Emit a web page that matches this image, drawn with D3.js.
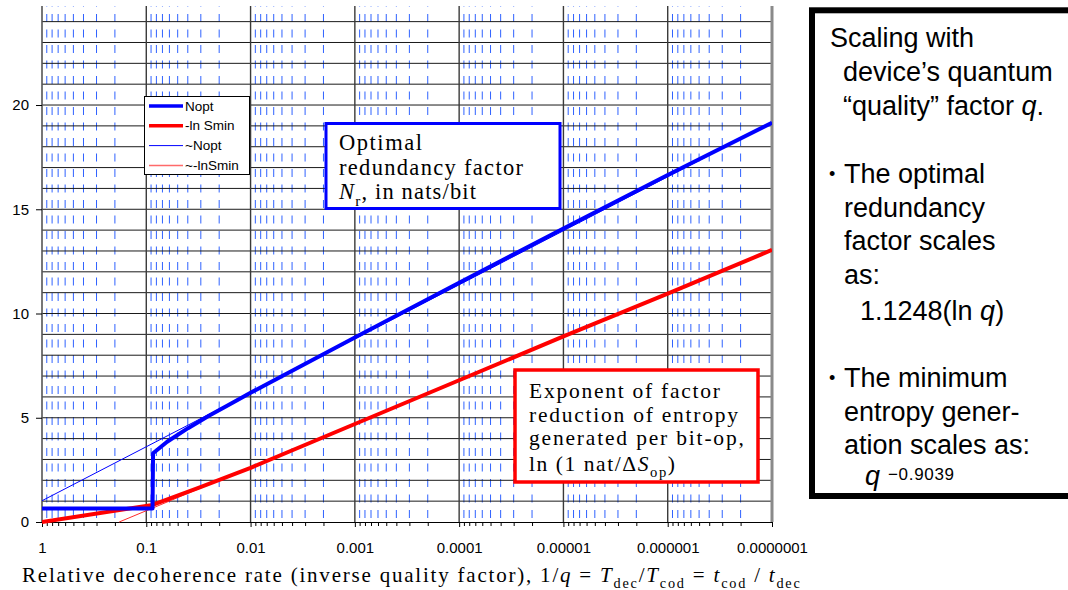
<!DOCTYPE html>
<html lang="en">
<head>
<meta charset="UTF-8">
<title>Redundancy vs decoherence rate</title>
<style>
    body { margin: 0; background: #fff; }
    svg { display: block; }
</style>
</head>
<body>
<script src="https://d3js.org/d3.v7.min.js"></script>
<script>

    let w = 1068, h = 590;

    // x axis: relative decoherence rate 1/q (log, decreasing to the right)
    let decadeTicks = [1, 0.1, 0.01, 0.001, 0.0001, 0.00001, 0.000001, 0.0000001];
    let decadeLabels = ["1", "0.1", "0.01", "0.001", "0.0001", "0.00001", "0.000001", "0.0000001"];
    let yTicks = [0, 5, 10, 15, 20];

    // Nopt (thick blue)
    let noptRate = [1, 0.0871, 0.0861, 0.0631, 0.0398, 0.0251, 0.0158, 0.01, 0.001, 0.0001, 0.00001, 0.000001, 0.0000001];
    let noptVal  = [0.65, 0.65, 3.3, 3.85, 4.5, 5.1, 5.65, 6.2, 8.85, 11.48, 14.08, 16.64, 19.15];
    // -ln Smin (thick red)
    let smRate = [1, 0.0871, 0.0316, 0.01, 0.001, 0.0001, 0.00001, 0.000001, 0.0000001];
    let smVal  = [0, 0.82, 1.64, 2.6, 4.7, 6.8, 8.9, 10.95, 13.05];
    // ~Nopt (thin blue)
    let apNoptRate = [1, 0.0000001];
    let apNoptVal  = [1.02, 19.15];
    // ~-lnSmin (thin red)
    let apSmRate = [0.182, 0.0000001];
    let apSmVal  = [0, 13.05];

    let legendNames = ["Nopt", "-ln Smin", "~Nopt", "~-lnSmin"];

    let plot = {left: 42, right: 772, top: 6, bottom: 522};

    let svg = d3.select("body").append("svg")
        .attr("width", w)
        .attr("height", h);

    let xScale = d3.scaleLog().domain([1, 1e-7]).range([plot.left, plot.right]);
    let yScale = d3.scaleLinear().domain([0, 24.75]).range([plot.bottom, plot.top]);

    // minor positions 2..9 inside each decade
    let minorTicks = [];
    for (let k = 1; k <= 7; ++k) {
        for (let m = 2; m <= 9; ++m) {
            minorTicks.push(m * Math.pow(10, -k));
        }
    }

    // blue dashed minor gridlines
    svg.append("g")
        .selectAll("line")
        .data(minorTicks)
        .enter()
        .append("line")
        .attr("x1", d => xScale(d))
        .attr("x2", d => xScale(d))
        .attr("y1", plot.top)
        .attr("y2", plot.bottom)
        .attr("stroke", "#2f62ff")
        .attr("stroke-width", 1)
        .attr("stroke-dasharray", "8,7.5")
        .attr("stroke-dashoffset", 7.5);

    // horizontal gridlines each unit
    svg.append("g")
        .selectAll("line")
        .data(d3.range(1, 25))
        .enter()
        .append("line")
        .attr("x1", plot.left)
        .attr("x2", plot.right)
        .attr("y1", d => yScale(d))
        .attr("y2", d => yScale(d))
        .attr("stroke", "#1a1a1a")
        .attr("stroke-width", 1);

    // decade lines
    svg.append("g")
        .selectAll("line")
        .data(decadeTicks.slice(1, 7))
        .enter()
        .append("line")
        .attr("x1", d => xScale(d))
        .attr("x2", d => xScale(d))
        .attr("y1", plot.top)
        .attr("y2", plot.bottom)
        .attr("stroke", "#3a3a3a")
        .attr("stroke-width", 1.4);

    // right border
    svg.append("line")
        .attr("x1", plot.right).attr("x2", plot.right)
        .attr("y1", plot.top).attr("y2", plot.bottom)
        .attr("stroke", "#8a8a8a").attr("stroke-width", 3);

    // axes
    let xAxis = d3.axisBottom(xScale)
        .tickValues(decadeTicks)
        .tickFormat((d, i) => decadeLabels[i])
        .tickSize(5).tickSizeOuter(0).tickPadding(15);
    let xMinor = d3.axisBottom(xScale)
        .tickValues(minorTicks)
        .tickFormat("")
        .tickSize(4).tickSizeOuter(0);
    let yAxis = d3.axisLeft(yScale)
        .tickValues(yTicks)
        .tickSize(6).tickSizeOuter(0).tickPadding(7);

    svg.append("g")
        .attr("transform", "translate(0," + plot.bottom + ")")
        .call(xMinor)
        .call(g => g.select(".domain").remove());

    let gx = svg.append("g")
        .attr("transform", "translate(0," + plot.bottom + ")")
        .call(xAxis);
    gx.selectAll("text").style("font-family", "'Liberation Sans', Arial, sans-serif").style("font-size", "15px");

    let gy = svg.append("g")
        .attr("transform", "translate(" + plot.left + ",0)")
        .call(yAxis);
    gy.select(".domain").attr("stroke", "#555").attr("stroke-width", 1.6)
        .attr("d", "M0," + plot.top + "V" + plot.bottom);
    gy.selectAll("text").style("font-family", "'Liberation Sans', Arial, sans-serif").style("font-size", "15px");

    // curves
    svg.append("clipPath").attr("id", "clip")
        .append("rect")
        .attr("x", plot.left).attr("y", plot.top)
        .attr("width", plot.right - plot.left).attr("height", plot.bottom - plot.top + 2);

    let line = d3.line()
        .x(d => xScale(d[0]))
        .y(d => yScale(d[1]));

    function zip(a, b) { return a.map((v, i) => [v, b[i]]); }

    let series = [
        {data: zip(apSmRate, apSmVal), color: "#ff2a2a", width: 1},
        {data: zip(apNoptRate, apNoptVal), color: "#0000ff", width: 1},
        {data: zip(smRate, smVal), color: "#ff0000", width: 4},
        {data: zip(noptRate, noptVal), color: "#0000ff", width: 4}
    ];

    let cg = svg.append("g").attr("clip-path", "url(#clip)");
    series.forEach(s => {
        cg.append("path")
            .attr("d", line(s.data))
            .attr("fill", "none")
            .attr("stroke", s.color)
            .attr("stroke-width", s.width)
            .attr("stroke-linejoin", "round");
    });

    // legend
    let legendStyle = [
        {color: "#0000ff", width: 3.5},
        {color: "#ff0000", width: 3.5},
        {color: "#0000ff", width: 1},
        {color: "#ff6a6a", width: 1.5}
    ];
    let lg = svg.append("g");
    lg.append("rect")
        .attr("x", 144.5).attr("y", 96.5)
        .attr("width", 105).attr("height", 78)
        .attr("fill", "#fff").attr("stroke", "#000").attr("stroke-width", 1);
    legendNames.forEach((name, i) => {
        let yy = 106 + i * 19.8;
        lg.append("line")
            .attr("x1", 149).attr("x2", 183)
            .attr("y1", yy).attr("y2", yy)
            .attr("stroke", legendStyle[i].color)
            .attr("stroke-width", legendStyle[i].width);
        lg.append("text")
            .attr("x", 185).attr("y", yy + 4.5)
            .style("font-family", "'Liberation Sans', Arial, sans-serif")
            .style("font-size", "13.5px")
            .text(name);
    });

    // fit a text element to a target width using letter spacing
    function fit(t, width) {
        let node = t.node();
        let len = node.getComputedTextLength();
        let n = node.getNumberOfChars();
        if (n > 1) t.attr("letter-spacing", ((width - len) / (n - 1)).toFixed(2));
    }

    // add a line made of parts: [text, style] style: "i" italic, "sub" subscript, "sup" superscript
    function richText(g, x, y, parts, font, size) {
        let t = g.append("text")
            .attr("x", x).attr("y", y)
            .style("font-family", font)
            .style("font-size", size + "px");
        let shift = 0;
        parts.forEach(p => {
            let s = typeof p === "string" ? [p, ""] : p;
            let sp = t.append("tspan").text(s[0]);
            let target = 0;
            if (s[1].indexOf("sub") >= 0) { target = size * 0.3; sp.style("font-size", (size * 0.68) + "px"); }
            if (s[1].indexOf("sup") >= 0) { target = -size * 0.3; sp.style("font-size", (size * 0.58) + "px"); }
            if (s[1].indexOf("i") === 0) sp.style("font-style", "italic");
            if (target !== shift) { sp.attr("dy", target - shift); shift = target; }
        });
        return t;
    }

    let serif = "'Liberation Serif', 'Times New Roman', serif";
    let sans = "'Liberation Sans', Arial, sans-serif";

    // blue annotation box
    svg.append("rect")
        .attr("x", 326).attr("y", 123.5).attr("width", 234).attr("height", 85)
        .attr("fill", "#fff").attr("stroke", "#0000ff").attr("stroke-width", 3);
    fit(richText(svg, 339, 150, ["Optimal"], serif, 22.5), 83);
    fit(richText(svg, 339, 175, ["redundancy factor"], serif, 22.5), 184);
    fit(richText(svg, 339, 199, [["N", "i"], ["r", "sub"], ", in nats/bit"], serif, 22.5), 137);

    // red annotation box
    svg.append("rect")
        .attr("x", 515).attr("y", 370).attr("width", 243).attr("height", 112)
        .attr("fill", "#fff").attr("stroke", "#ff0000").attr("stroke-width", 3.5);
    fit(richText(svg, 529, 398, ["Exponent of factor"], serif, 21.5), 191);
    fit(richText(svg, 529, 421.5, ["reduction of entropy"], serif, 21.5), 209);
    fit(richText(svg, 529, 445, ["generated per bit-op,"], serif, 21.5), 215);
    fit(richText(svg, 529, 471, ["ln (1 nat/\u0394", ["S", "i"], ["op", "sub"], ")"], serif, 21.5), 146);

    // right text box
    svg.append("rect")
        .attr("x", 812).attr("y", 10.3).attr("width", 280).attr("height", 485.7)
        .attr("fill", "#fff").attr("stroke", "#000").attr("stroke-width", 6);

    let boxLines = [
        {x: 830, y: 46.7, parts: ["Scaling with"]},
        {x: 843, y: 81, parts: ["device\u2019s quantum"]},
        {x: 843, y: 115, parts: ["\u201cquality\u201d factor ", ["q", "i"], "."]},
        {x: 844, y: 182.7, parts: ["The optimal"]},
        {x: 844, y: 216.5, parts: ["redundancy"]},
        {x: 844, y: 250, parts: ["factor scales"]},
        {x: 844, y: 283.5, parts: ["as:"]},
        {x: 860, y: 320, parts: ["1.1248(ln ", ["q", "i"], ")"]},
        {x: 844, y: 387.3, parts: ["The minimum"]},
        {x: 844, y: 420.7, parts: ["entropy gener-"]},
        {x: 844, y: 454, parts: ["ation scales as:"]}
    ];
    boxLines.forEach(l => richText(svg, l.x, l.y, l.parts, sans, 27));
    [182.7, 387.3].forEach(yy => {
        svg.append("text").attr("x", 829).attr("y", yy - 3)
            .style("font-family", sans).style("font-size", "18px").text("\u2022");
    });
    richText(svg, 865, 485, [["q", "i"]], sans, 27);
    fit(svg.append("text").attr("x", 888).attr("y", 480)
        .style("font-family", sans).style("font-size", "17px").text("\u22120.9039"), 66);

    // x axis title
    let title = richText(svg, 22, 582, [
        "Relative decoherence rate (inverse quality factor), 1/", ["q", "i"], " = ",
        ["T", "i"], ["dec", "sub"], "/", ["T", "i"], ["cod", "sub"], " = ",
        ["t", "i"], ["cod", "sub"], " / ", ["t", "i"], ["dec", "sub"]
    ], serif, 21);
    fit(title, 778);

</script>
</body>
</html>
